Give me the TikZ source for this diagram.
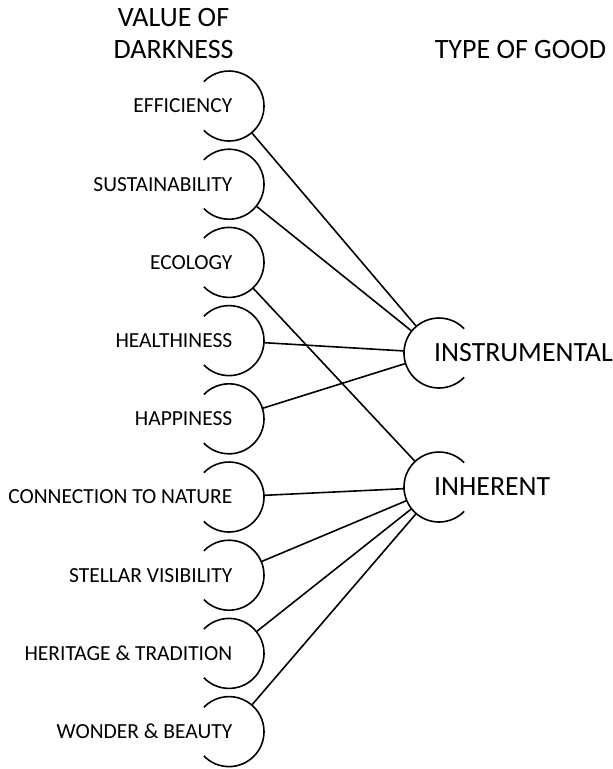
\documentclass[tikz,border=0pt]{standalone}
\usepackage{fontspec}
\setmainfont{Carlito}
\begin{document}
\begin{tikzpicture}[x=1pt,y=-1pt,
  hub/.style={circle,minimum size=70pt,inner sep=0pt,outer sep=0pt,draw=none},
  link/.style={line width=1.6pt,black},
  arcline/.style={line width=1.6pt,black},
  vlabel/.style={anchor=east,inner sep=0pt,font=\fontsize{21.5}{21.5}\selectfont},
  glabel/.style={anchor=west,inner sep=0pt,font=\fontsize{27.8}{27.8}\selectfont},
  head/.style={inner sep=0pt,font=\fontsize{28}{28}\selectfont}]
\useasboundingbox (0,0) rectangle (613,769);

% headers
\node[head] (h1) at (173.5,18) {VALUE OF};
\node[head] (h2) at (173.5,50) {DARKNESS};
\node[head] (h3) at (520.5,50) {TYPE OF GOOD};

% left hubs
\foreach \n/\t [count=\i from 0] in {eff/EFFICIENCY,sus/SUSTAINABILITY,eco/ECOLOGY,hea/HEALTHINESS,hap/HAPPINESS,con/CONNECTION TO NATURE,ste/STELLAR VISIBILITY,her/HERITAGE \& TRADITION,won/WONDER \& BEAUTY}{
  \node[hub] (\n) at (229,106+78.2*\i) {};
  \draw[arcline] (\n.center) ++(136:35) arc[start angle=136,end angle=-136,radius=35];
  \node[vlabel] (\n-l) at (232.5,106+78.2*\i) {\t};
}

% right hubs
\node[hub] (ins) at (439,353) {};
\node[hub] (inh) at (439,487) {};
\draw[arcline] (ins.center) ++(44:35) arc[start angle=44,end angle=316,radius=35];
\draw[arcline] (inh.center) ++(44:35) arc[start angle=44,end angle=316,radius=35];
\node[glabel] (ins-l) at (434,353) {INSTRUMENTAL};
\node[glabel] (inh-l) at (434,487) {INHERENT};

% connectors
\draw[link] (eff) -- (ins);
\draw[link] (sus) -- (ins);
\draw[link] (hea) -- (ins);
\draw[link] (hap) -- (ins);
\draw[link] (eco) -- (inh);
\draw[link] (con) -- (inh);
\draw[link] (ste) -- (inh);
\draw[link] (her) -- (inh);
\draw[link] (won) -- (inh);
\end{tikzpicture}
\end{document}
